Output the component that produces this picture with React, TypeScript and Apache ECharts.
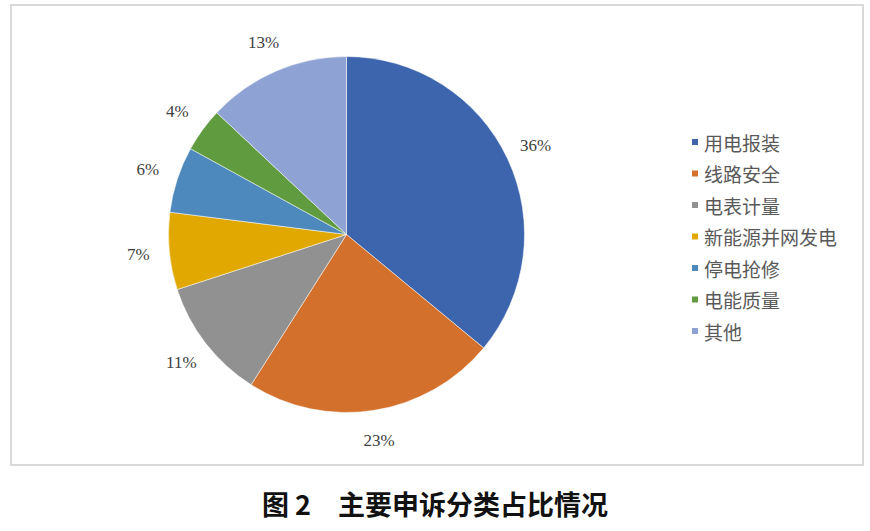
import * as echarts from "echarts"
import { useEffect, useRef } from "react"

// 主要申诉分类
const categories = ["用电报装", "线路安全", "电表计量", "新能源并网发电", "停电抢修", "电能质量", "其他"]
const shares = [36, 23, 11, 7, 6, 4, 13]
const colors = ["#3d65ad", "#d3702b", "#919191", "#e0a800", "#4e89bd", "#609b3f", "#8ea3d4"]
const caption = "图 2　主要申诉分类占比情况"

const App: React.FC = () => {
    const divRef = useRef<HTMLDivElement | null>(null)

    useEffect(() => {
        document.body.style.margin = "0"
        const chart = echarts.init(divRef.current!, undefined, { renderer: "svg" })

        const data = categories.map((name, i) => ({ name, value: shares[i] }))

        chart.setOption({
            animation: false,
            color: colors,
            title: {
                text: caption,
                left: "center",
                top: 490,
                padding: 0,
                textStyle: {
                    fontFamily: "Noto Sans CJK SC",
                    fontSize: 27,
                    lineHeight: 27,
                    fontWeight: "bold",
                    color: "#111"
                }
            },
            legend: {
                orient: "vertical",
                left: 690,
                top: 132,
                padding: 0,
                icon: "rect",
                itemWidth: 8,
                itemHeight: 8,
                itemGap: 11.5,
                selectedMode: false,
                data: categories,
                textStyle: {
                    fontFamily: "Noto Sans CJK SC",
                    fontSize: 19,
                    lineHeight: 20,
                    color: "#595959"
                }
            },
            graphic: [
                {
                    type: "rect",
                    shape: { x: 11, y: 5, width: 852, height: 460 },
                    style: { fill: "none", stroke: "#d9d9d9", lineWidth: 2 },
                    silent: true
                }
            ],
            series: [
                {
                    type: "pie",
                    center: [346.5, 234.5],
                    radius: 178,
                    startAngle: 90,
                    clockwise: true,
                    data,
                    itemStyle: { borderColor: "#fff", borderWidth: 0.5 },
                    label: { show: false },
                    labelLine: { show: false },
                    emphasis: { disabled: true }
                },
                {
                    // invisible ring that carries the percentage labels
                    type: "pie",
                    center: [346.5, 234.5],
                    radius: [198, 214],
                    startAngle: 90,
                    clockwise: true,
                    silent: true,
                    data,
                    itemStyle: { color: "rgba(0,0,0,0)" },
                    label: {
                        show: true,
                        position: "inside",
                        formatter: "{c}%",
                        fontFamily: "Liberation Serif",
                        fontSize: 17,
                        color: "#404040"
                    },
                    labelLine: { show: false },
                    emphasis: { disabled: true }
                }
            ]
        })

        return () => {
            chart.dispose()
        }
    }, [])

    return <div ref={divRef} style={{ width: 870, height: 531, position: "absolute", left: 0, top: 0 }}></div>
}

export default App
